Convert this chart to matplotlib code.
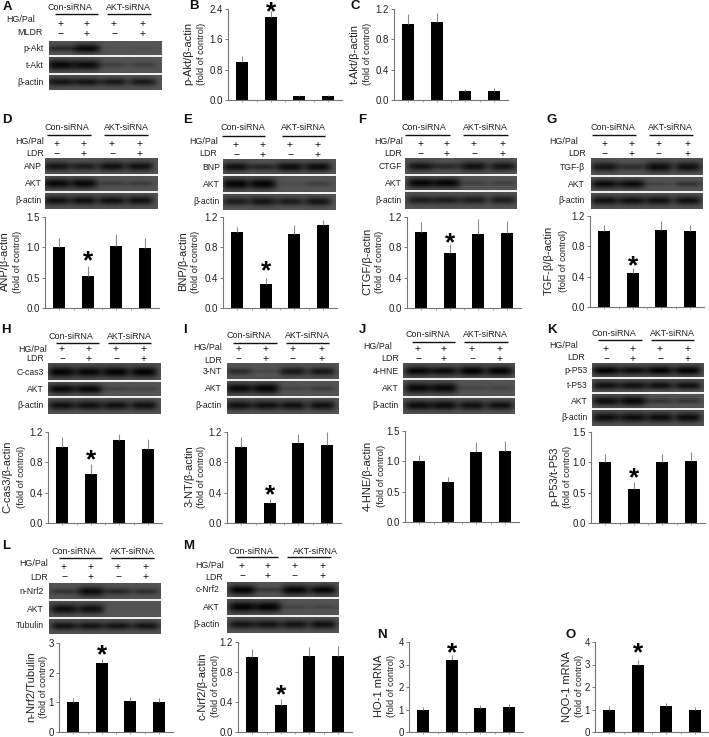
import numpy as np
import matplotlib
matplotlib.use('Agg')
import matplotlib.pyplot as plt

plt.rcParams['font.family'] = ['Liberation Sans', 'DejaVu Sans']

W, H = 709, 737

# bar heights and upper error bars, four groups per panel
val_b = [1.0, 2.2, 0.1, 0.1];      err_b = [0.15, 0.15, 0.02, 0.03]
val_c = [1.0, 1.03, 0.12, 0.12];   err_c = [0.14, 0.12, 0.03, 0.04]
val_d = [1.0, 0.52, 1.03, 0.99];   err_d = [0.15, 0.17, 0.19, 0.16]
val_e = [1.0, 0.31, 0.97, 1.1];    err_e = [0.07, 0.09, 0.13, 0.06]
val_f = [1.0, 0.72, 0.97, 0.99];   err_f = [0.13, 0.12, 0.2, 0.16]
val_g = [1.0, 0.45, 1.02, 1.0];    err_g = [0.08, 0.06, 0.11, 0.08]
val_h = [1.0, 0.65, 1.1, 0.98];    err_h = [0.14, 0.13, 0.08, 0.13]
val_i = [1.0, 0.26, 1.05, 1.03];   err_i = [0.13, 0.05, 0.12, 0.17]
val_j = [1.0, 0.66, 1.16, 1.17];   err_j = [0.1, 0.08, 0.16, 0.16]
val_k = [1.0, 0.56, 1.01, 1.03];   err_k = [0.14, 0.11, 0.12, 0.14]
val_l = [1.0, 2.33, 1.04, 1.02];   err_l = [0.16, 0.12, 0.14, 0.13]
val_m = [1.0, 0.36, 1.01, 1.01];   err_m = [0.11, 0.08, 0.13, 0.14]
val_n = [1.0, 3.2, 1.07, 1.1];     err_n = [0.12, 0.22, 0.14, 0.13]
val_o = [1.0, 2.97, 1.17, 1.0];    err_o = [0.17, 0.22, 0.13, 0.13]

ticks_12 = [0.0, 0.4, 0.8, 1.2]
ticks_15 = [0.0, 0.5, 1.0, 1.5]
ticks_24 = [0.0, 0.8, 1.6, 2.4]
ticks_3 = [0, 1, 2, 3]
ticks_4 = [0, 1, 2, 3, 4]

# band strength per lane on each blot row (0 nothing, 1 black)
bands_a = [('p-Akt', [0.55, 0.95, 0.03, 0.06]), ('t-Akt', [0.95, 0.9, 0.25, 0.25]), ('β-actin', [0.8, 0.8, 0.75, 0.75])]
bands_d = [('ANP', [0.8, 0.7, 0.85, 0.85]), ('AKT', [0.95, 0.95, 0.3, 0.3]), ('β-actin', [0.85, 0.85, 0.85, 0.85])]
bands_e = [('BNP', [0.85, 0.6, 0.9, 0.9]), ('AKT', [1.0, 1.0, 0.08, 0.25]), ('β-actin', [0.7, 0.8, 0.7, 0.8])]
bands_f = [('CTGF', [0.8, 0.55, 0.85, 0.8]), ('AKT', [1.0, 1.0, 0.25, 0.25]), ('β-actin', [0.7, 0.7, 0.7, 0.7])]
bands_g = [('TGF-β', [0.8, 0.5, 0.9, 0.85]), ('AKT', [0.9, 0.9, 0.2, 0.4]), ('β-actin', [0.85, 0.85, 0.85, 0.85])]
bands_h = [('C-cas3', [1.0, 0.95, 1.0, 1.0]), ('AKT', [0.95, 0.95, 0.25, 0.2]), ('β-actin', [0.85, 0.85, 0.85, 0.85])]
bands_i = [('3-NT', [0.5, 0.15, 0.75, 0.75]), ('AKT', [0.95, 1.0, 0.2, 0.3]), ('β-actin', [0.85, 0.85, 0.85, 0.85])]
bands_j = [('4-HNE', [0.95, 0.9, 1.0, 1.0]), ('AKT', [0.95, 0.95, 0.2, 0.2]), ('β-actin', [0.9, 0.9, 0.85, 0.85])]
bands_k = [('p-P53', [1.0, 0.9, 1.0, 1.0]), ('t-P53', [0.85, 0.85, 0.85, 0.85]), ('AKT', [0.9, 0.95, 0.4, 0.4]), ('β-actin', [0.9, 0.9, 0.9, 0.9])]
bands_l = [('n-Nrf2', [0.4, 0.9, 0.55, 0.45]), ('AKT', [0.9, 0.85, 0.03, 0.03]), ('Tubulin', [0.8, 0.8, 0.8, 0.8])]
bands_m = [('c-Nrf2', [1.0, 0.35, 1.0, 0.95]), ('AKT', [1.0, 1.0, 0.2, 0.2]), ('β-actin', [0.8, 0.8, 0.8, 0.85])]

treat_a = ['MLDR']
group_names = ['Con-siRNA', 'AKT-siRNA']


fig = plt.figure(figsize=(W / 100, H / 100), dpi=100)
canvas = fig.add_axes([0, 0, 1, 1])
canvas.set_xlim(0, W)
canvas.set_ylim(H, 0)
canvas.axis('off')


def bars(left, top, bottom, values, errors, ticks, label, star=None, lab_off=(-40, -27)):
    # one bar chart, placed by its pixel box
    ax = fig.add_axes([left / W, 1 - bottom / H, 114 / W, (bottom - top) / H])
    x = np.arange(4)
    ax.bar(x, values, width=0.41, color='black')
    ax.errorbar(x, values, yerr=[[0] * 4, errors], fmt='none', ecolor='#8c8c8c', elinewidth=0.8, capsize=0)
    ax.set_xlim(-0.5, 3.5)
    ax.set_ylim(0, ticks[-1])
    ax.set_xticks(x)
    ax.set_xticks([0.5, 1.5, 2.5], minor=True)
    ax.set_xticklabels([])
    ax.set_yticks(ticks)
    ax.set_yticklabels(['%g' % t if ticks[-1] in (3, 4) else '%.1f' % t for t in ticks])
    ax.tick_params(axis='y', length=2, width=0.7, color='#777777', labelsize=7, pad=1.5, labelcolor='#222222')
    ax.tick_params(axis='x', which='both', length=1.5, width=0.6, color='#999999')
    ax.patch.set_alpha(0)
    for s in ['top', 'right']:
        ax.spines[s].set_visible(False)
    for s in ['left', 'bottom']:
        ax.spines[s].set_color('#777777')
        ax.spines[s].set_linewidth(0.8)
    mid = (top + bottom) / 2 - 1
    canvas.text(left + lab_off[0], mid, label, rotation=90, ha='center', va='center', fontsize=8, color='#222222')
    canvas.text(left + lab_off[1], mid, '(fold of control)', rotation=90, ha='center', va='center', fontsize=6.7, color='#222222')
    if star is not None:
        canvas.text(left + 14.2 + 28.4, star - 8, '*', ha='center', va='top', fontsize=19, fontweight='bold', color='black', clip_on=False)


def blot(x0, y0, x1, y1, rows, seps, treat='LDR', sign_dx=(14, 41, 68, 96), sign_y=(-15, -5),
         line_dx=((2, 46), (59, 103)), line_y=-23, name_dx=(22, 81), name_y=-31,
         hg=(-1, -17), ldr=(-1, -5), lab_dx=-3):
    # gel picture: dark background with a soft band per lane
    h = int(y1 - y0)
    w = int(x1 - x0)
    img = np.full((h, w), 0.33)
    edges = [y0] + list(seps) + [y1]
    xx = np.arange(w) + 0.5
    yy = np.arange(h) + y0 + 0.5
    for r, (name, strengths) in enumerate(rows):
        mid = (edges[r] + edges[r + 1]) / 2
        rh = edges[r + 1] - edges[r]
        for k, s in enumerate(strengths):
            prof_y = np.exp(-((yy - mid) / (rh * (0.1 + 0.2 * s))) ** 2)
            prof_x = np.exp(-((xx - sign_dx[k]) / 13.5) ** 4)
            img -= 0.31 * s * np.outer(prof_y, prof_x)
        canvas.text(x0 + lab_dx, mid, name, ha='right', va='center', fontsize=6.2, color='#222222')
    canvas.imshow(img, cmap='gray', vmin=0, vmax=1, extent=[x0, x1, y1, y0], aspect='auto', interpolation='bilinear', zorder=1)
    for s in seps:
        canvas.plot([x0, x1], [s, s], color='white', lw=1.3, zorder=2, solid_capstyle='butt')
    for i in range(2):
        canvas.plot([x0 + line_dx[i][0], x0 + line_dx[i][1]], [y0 + line_y] * 2, color='#111111', lw=1.0, solid_capstyle='butt')
        canvas.text(x0 + name_dx[i], y0 + name_y, group_names[i], ha='center', va='center', fontsize=6.4, color='#222222')
    for i, dx in enumerate(sign_dx):
        canvas.text(x0 + dx, y0 + sign_y[0] + 1, '+', ha='center', va='center', fontsize=7.5, color='#111111')
        canvas.text(x0 + dx, y0 + sign_y[1] + 1, '+' if i % 2 else '−', ha='center', va='center', fontsize=7.5, color='#111111')
    canvas.text(x0 + hg[0], y0 + hg[1], 'HG/Pal', ha='right', va='center', fontsize=6.4, color='#222222')
    canvas.text(x0 + ldr[0], y0 + ldr[1], treat, ha='right', va='center', fontsize=6.4, color='#222222')


# first row
blot(49, 41, 162, 90, bands_a, [56, 74], treat=treat_a[0], sign_dx=(12, 38, 65, 94), sign_y=(-18, -8),
     line_dx=((6, 49), (58, 102)), line_y=-27, name_dx=(21, 79), name_y=-34, hg=(-14, -22), ldr=(-6, -9), lab_dx=-5)
bars(228, 9, 100, val_b, err_b, ticks_24, 'p-Akt/β-actin', star=8)
bars(394, 9, 100, val_c, err_c, ticks_12, 't-Akt/β-actin', lab_off=(-39, -27))

# second row
blot(45, 158, 158, 209, bands_d, [175, 192], sign_dx=(12, 39, 67, 95))
bars(45, 217, 308, val_d, err_d, ticks_15, 'ANP/β-actin', star=257)
blot(223, 159, 336, 210, bands_e, [175, 193], sign_dx=(13, 40, 67, 95), line_dx=((-1, 42), (59, 102)), name_dx=(20, 80), name_y=-32, hg=(-5, -18), ldr=(-6, -6))
bars(223, 217, 308, val_e, err_e, ticks_12, 'BNP/β-actin', star=267)
blot(405, 158, 517, 209, bands_f, [175, 191], sign_dx=(16, 42, 69, 98), line_dx=((0, 45), (58, 103)), name_dx=(19, 80), hg=(-2, -17), ldr=(-3, -5))
bars(407, 217, 308, val_f, err_f, ticks_12, 'CTGF/β-actin', star=239)
blot(591, 158, 703, 209, bands_g, [176, 192], sign_dx=(14, 41, 68, 97), line_dx=((1, 45), (58, 102)), name_dx=(22, 79), hg=(-13, -17), ldr=(-5, -5), lab_dx=-6)
bars(590, 216, 307, val_g, err_g, ticks_12, 'TGF-β/β-actin', star=262, lab_off=(-41, -27))

# third row
blot(48, 363, 161, 414, bands_h, [381, 397], sign_y=(-15, -5), line_dx=((8, 51), (60, 103)), line_y=-20, name_dx=(23, 81), name_y=-27, hg=(-1, -14), ldr=(-4, -5), lab_dx=-4)
bars(48, 432, 523, val_h, err_h, ticks_12, 'C-cas3/β-actin', star=456, lab_off=(-41, -27))
blot(227, 363, 339, 414, bands_i, [380, 397], sign_dx=(12, 39, 66, 95), sign_y=(-15, -5), line_dx=((6, 50), (59, 102)), line_y=-20, name_dx=(22, 80), name_y=-28, hg=(-5, -16), ldr=(-5, -3), lab_dx=-5)
bars(227, 432, 523, val_i, err_i, ticks_12, '3-NT/β-actin', star=491, lab_off=(-37, -25))
blot(403, 363, 515, 414, bands_j, [379, 397], sign_dx=(15, 41, 69, 97), line_dx=((9, 52), (61, 105)), line_y=-21, name_dx=(25, 82), name_y=-29, hg=(-11, -17), ldr=(-4, -5), lab_dx=-4)
bars(405, 431, 522, val_j, err_j, ticks_15, '4-HNE/β-actin', lab_off=(-37, -23))
blot(592, 363, 704, 426, bands_k, [378, 393, 409], line_dx=((6, 50), (59, 102)), line_y=-23, name_dx=(22, 80), name_y=-30, hg=(-14, -18), ldr=(-7, -6), lab_dx=-4)
bars(591, 432, 523, val_k, err_k, ticks_15, 'p-P53/t-P53', star=474, lab_off=(-37, -24))

# last row
blot(49, 583, 161, 634, bands_l, [600, 618], sign_dx=(15, 42, 69, 97), sign_y=(-17, -7), line_dx=((10, 53), (62, 105)), line_y=-25, name_dx=(25, 83), name_y=-32, hg=(-1, -19), ldr=(-1, -6), lab_dx=-5)
bars(59, 643, 732, val_l, err_l, ticks_3, 'n-Nrf2/Tubulin', star=651, lab_off=(-28, -16))
blot(227, 582, 339, 633, bands_m, [598, 616], sign_dx=(15, 41, 68, 96), sign_y=(-17, -7), line_dx=((9, 51), (60, 104)), line_y=-25, name_dx=(24, 88), name_y=-31, hg=(-3, -16), ldr=(-4, -4), lab_dx=-7)
bars(238, 642, 732, val_m, err_m, ticks_12, 'c-Nrf2/β-actin', star=691, lab_off=(-36, -23))
bars(409, 642, 732, val_n, err_n, ticks_4, 'HO-1 mRNA', star=649, lab_off=(-30, -17))
bars(595, 642, 732, val_o, err_o, ticks_4, 'NQO-1 mRNA', star=649, lab_off=(-28, -16))

# panel letters
letters = ['A', 'B', 'C', 'D', 'E', 'F', 'G', 'H', 'I', 'J', 'K', 'L', 'M', 'N', 'O']
letter_x = [7, 194, 355, 7, 188, 362, 552, 6, 185, 362, 552, 6, 189, 382, 571]
letter_y = [7, 6, 6, 120, 120, 120, 120, 330, 330, 330, 330, 546, 546, 635, 635]
for t, lx, ly in zip(letters, letter_x, letter_y):
    canvas.text(lx, ly, t, ha='center', va='center', fontsize=9.5, fontweight='bold', color='#111111')

canvas.set_xlim(0, W)
canvas.set_ylim(H, 0)
fig.savefig('out.png', dpi=100)
